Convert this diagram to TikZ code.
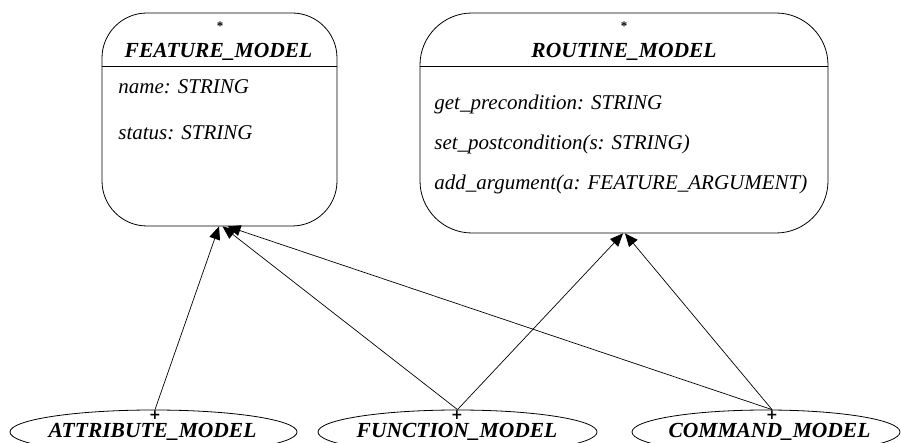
\documentclass[tikz,border=0pt]{standalone}
\usepackage{fontspec}
\setmainfont{Liberation Serif}
\newfontfamily\markfont{DejaVu Sans}
\usetikzlibrary{arrows.meta,shapes.geometric,calc}

\begin{document}
\begin{tikzpicture}[x=1pt,y=-1pt,
  line width=0.8pt,
  classbox/.style={draw, inner sep=0pt},
  effective/.style={draw, ellipse, inner sep=0pt, minimum height=44pt},
  title/.style={font=\fontsize{21.5}{24}\selectfont\bfseries\itshape, anchor=base, inner sep=0pt},
  member/.style={font=\fontsize{21}{24}\selectfont\itshape, anchor=base west, inner sep=0pt},
  deferred/.style={font=\fontsize{13}{13}\selectfont\bfseries, inner sep=0pt},
  plusmark/.style={font=\markfont\fontsize{14}{14}\selectfont\bfseries, inner sep=0pt},
  inherit/.style={-{Triangle[length=13pt,width=11pt]}, line width=0.7pt}
]
\useasboundingbox (0,0) rectangle (901,443);

% deferred classes
\node[classbox, rounded corners=45pt, minimum width=235pt, minimum height=213pt] (fm) at (219.5,119.5) {};
\draw ($(fm.north west)+(0,54)$) -- ($(fm.north east)+(0,54)$);
\node[deferred] (fmstar) at (220,26) {*};
\node[title] (fmtitle) at (218.5,58) {FEATURE\_MODEL};
\node[member] (fmname) at (118,94) {name: STRING};
\node[member] (fmstatus) at (118,140) {status: STRING};

\node[classbox, rounded corners=52pt, minimum width=408pt, minimum height=220pt] (rm) at (624,123) {};
\draw ($(rm.north west)+(0,54)$) -- ($(rm.north east)+(0,54)$);
\node[deferred] (rmstar) at (624,26) {*};
\node[title] (rmtitle) at (624,58) {ROUTINE\_MODEL};
\node[member] (rmpre) at (434,110) {get\_precondition: STRING};
\node[member] (rmpost) at (434,150) {set\_postcondition(s: STRING)};
\node[member] (rmarg) at (434,190) {add\_argument(a: FEATURE\_ARGUMENT)};

% effective classes
\node[effective, minimum width=287pt] (attr) at (153.5,432) {};
\node[title] (attrlbl) at (152.5,437) {ATTRIBUTE\_MODEL};
\node[plusmark] (attrplus) at (155,415) {+};

\node[effective, minimum width=279pt] (func) at (457.5,432) {};
\node[title] (funclbl) at (457,437) {FUNCTION\_MODEL};
\node[plusmark] (funcplus) at (457,415) {+};

\node[effective, minimum width=268pt] (cmd) at (766,432) {};
\node[title] (cmdlbl) at (769.5,437) {COMMAND\_MODEL};
\node[plusmark] (cmdplus) at (772,415) {+};

% inheritance links
\draw[inherit] ([xshift=1.5pt]attr.north) -- ([xshift=-0.5pt]fm.south);
\draw[inherit] (func.north) -- ([xshift=3pt]fm.south);
\draw[inherit] ([xshift=6pt]cmd.north) -- ([xshift=8pt]fm.south);
\draw[inherit] (func.north) -- ([xshift=-1pt]rm.south);
\draw[inherit] ([xshift=6pt]cmd.north) -- ([xshift=1pt]rm.south);
\end{tikzpicture}
\end{document}
